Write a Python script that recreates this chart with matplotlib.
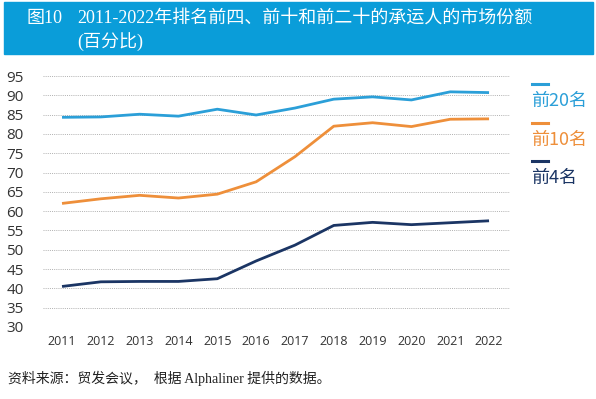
import matplotlib
matplotlib.use("Agg")
import matplotlib.pyplot as plt
from matplotlib.patches import Rectangle

plt.rcParams['font.family'] = ['Noto Sans CJK SC', 'DejaVu Sans']

# 数据
years = [2011, 2012, 2013, 2014, 2015, 2016, 2017, 2018, 2019, 2020, 2021, 2022]
top20 = [84.3, 84.4, 85.1, 84.6, 86.4, 84.9, 86.7, 89.0, 89.6, 88.8, 90.9, 90.7]
top10 = [62.0, 63.2, 64.1, 63.4, 64.4, 67.6, 74.1, 82.0, 82.9, 81.9, 83.8, 83.9]
top4 = [40.5, 41.7, 41.8, 41.8, 42.5, 47.1, 51.2, 56.3, 57.1, 56.5, 57.0, 57.5]
yticks = list(range(30, 100, 5))

series = [
    ("前20名", top20, "#2b9fd8"),
    ("前10名", top10, "#ee8f3a"),
    ("前4名", top4, "#1b3564"),
]

fig = plt.figure(figsize=(5.96, 3.99), dpi=100)

# 标题栏
fig.patches.append(Rectangle((4 / 596, 1 - 54 / 399), 589 / 596, 52 / 399,
                             transform=fig.transFigure, color="#0a9dd9", zorder=0))
serif = ['Liberation Serif', 'Noto Sans CJK SC']
fig.text(27 / 596, 1 - 18 / 399, "图10", color="white", fontsize=13,
         family=serif, va="center")
fig.text(77 / 596, 1 - 18 / 399, "2011-2022年排名前四、前十和前二十的承运人的市场份额",
         color="white", fontsize=13, family=serif, va="center")
fig.text(77 / 596, 1 - 42 / 399, "(百分比)", color="white", fontsize=13,
         family=serif, va="center")

ax = fig.add_axes([43 / 596, 1 - 327 / 399, 467 / 596, 251 / 399])
for name, vals, col in series:
    ax.plot(years, vals, color=col, lw=2.0, solid_capstyle="butt")

ax.set_xlim(2010.51, 2022.54)
ax.set_ylim(30, 95)
ax.set_yticks(yticks)
ax.set_xticks(years)
ax.tick_params(axis="y", length=0, pad=14, labelsize=11, labelcolor="#333333")
ax.tick_params(axis="x", length=0, pad=6, labelsize=9, labelcolor="#333333")
for lab in ax.get_xticklabels() + ax.get_yticklabels():
    lab.set_family(['Open Sans', 'DejaVu Sans'])
ax.grid(axis="y", color="#b0b0b0", linestyle=(0, (1, 1.2)), lw=0.7)
for s in ax.spines.values():
    s.set_visible(False)

# 图例
leg_y = [84, 123, 161]
for (name, vals, col), ly in zip(series, leg_y):
    fig.lines.append(plt.Line2D([532 / 596, 548 / 596], [1 - ly / 399, 1 - ly / 399],
                                transform=fig.transFigure, color=col, lw=2.2))
    fig.text(531 / 596, 1 - (ly + 17) / 399, name, color=col, fontsize=13, va="center")

fig.text(8 / 596, 1 - 378 / 399, "资料来源：贸发会议，  根据 Alphaliner 提供的数据。",
         fontsize=10, family=serif, color="#222222", va="center")

fig.savefig("out.png", dpi=100)
